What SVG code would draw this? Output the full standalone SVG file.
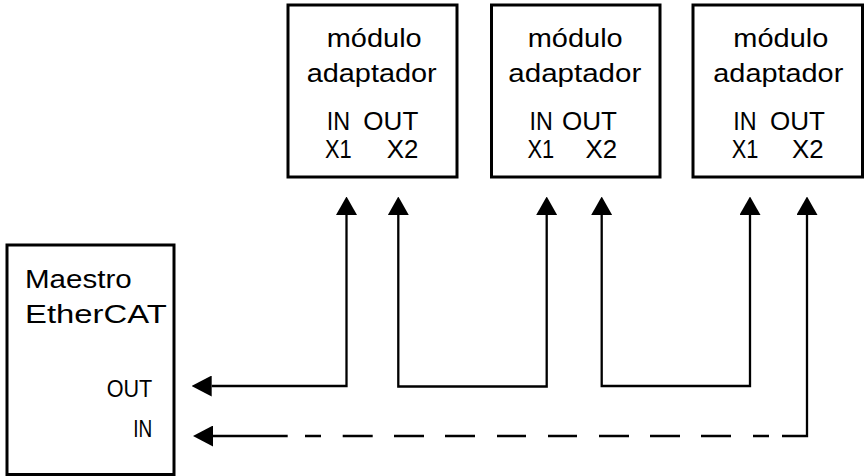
<svg xmlns="http://www.w3.org/2000/svg" width="865" height="476" viewBox="0 0 865 476">
  <style>
    .box { fill: #fff; stroke: #000; stroke-width: 3; }
    .lbl { font-family: "Liberation Sans", Arial, sans-serif; font-size: 25.5px; fill: #000; }
    .port { font-family: "Liberation Sans", Arial, sans-serif; font-size: 23px; fill: #000; }
    .wire { fill: none; stroke: #000; stroke-width: 2.3; }
  </style>
  <defs>
    <!-- arrowheads start at the line end and point outward -->
    <marker id="arrowV" viewBox="0 0 18.5 21" refX="0" refY="10.5" markerWidth="18.5" markerHeight="21" markerUnits="userSpaceOnUse" orient="auto-start-reverse">
      <path d="M0,0 L18.5,10.5 L0,21 Z" fill="#000"/>
    </marker>
    <marker id="arrowH" viewBox="0 0 20 21" refX="0" refY="10.5" markerWidth="20" markerHeight="21" markerUnits="userSpaceOnUse" orient="auto-start-reverse">
      <path d="M0,0 L20,10.5 L0,21 Z" fill="#000"/>
    </marker>
  </defs>

  <!-- EtherCAT master -->
  <g id="maestro">
    <rect class="box" x="7" y="245" width="167" height="229.5"/>
    <text class="lbl" x="25" y="288" textLength="106.7" lengthAdjust="spacingAndGlyphs">Maestro</text>
    <text class="lbl" x="25" y="323" textLength="141.7" lengthAdjust="spacingAndGlyphs">EtherCAT</text>
    <text class="port" x="106.7" y="396.7" textLength="45.6" lengthAdjust="spacingAndGlyphs">OUT</text>
    <text class="port" x="133.3" y="436.7" textLength="19" lengthAdjust="spacingAndGlyphs">IN</text>
  </g>

  <!-- adapter module 1 -->
  <g id="modulo1">
    <rect class="box" x="288" y="5" width="169" height="172"/>
    <text class="lbl" x="326.7" y="46.7" textLength="95" lengthAdjust="spacingAndGlyphs">módulo</text>
    <text class="lbl" x="306.7" y="81.7" textLength="130" lengthAdjust="spacingAndGlyphs">adaptador</text>
    <text class="lbl" x="326.7" y="130" textLength="23.3" lengthAdjust="spacingAndGlyphs">IN</text>
    <text class="lbl" x="363.3" y="130" textLength="55" lengthAdjust="spacingAndGlyphs">OUT</text>
    <text class="lbl" x="325" y="158.3" textLength="26.7" lengthAdjust="spacingAndGlyphs">X1</text>
    <text class="lbl" x="386.7" y="158.3" textLength="31.6" lengthAdjust="spacingAndGlyphs">X2</text>
  </g>

  <!-- adapter module 2 -->
  <g id="modulo2">
    <rect class="box" x="491.5" y="5" width="168.5" height="172"/>
    <text class="lbl" x="527.7" y="46.7" textLength="95" lengthAdjust="spacingAndGlyphs">módulo</text>
    <text class="lbl" x="508.3" y="81.7" textLength="133" lengthAdjust="spacingAndGlyphs">adaptador</text>
    <text class="lbl" x="529.5" y="130" textLength="23.3" lengthAdjust="spacingAndGlyphs">IN</text>
    <text class="lbl" x="562" y="130" textLength="55" lengthAdjust="spacingAndGlyphs">OUT</text>
    <text class="lbl" x="527.5" y="158.3" textLength="26.7" lengthAdjust="spacingAndGlyphs">X1</text>
    <text class="lbl" x="585.5" y="158.3" textLength="31.6" lengthAdjust="spacingAndGlyphs">X2</text>
  </g>

  <!-- adapter module 3 -->
  <g id="modulo3">
    <rect class="box" x="693" y="5" width="169.5" height="172"/>
    <text class="lbl" x="733.3" y="46.7" textLength="95" lengthAdjust="spacingAndGlyphs">módulo</text>
    <text class="lbl" x="713.3" y="81.7" textLength="130" lengthAdjust="spacingAndGlyphs">adaptador</text>
    <text class="lbl" x="733.3" y="130" textLength="23.3" lengthAdjust="spacingAndGlyphs">IN</text>
    <text class="lbl" x="770" y="130" textLength="55" lengthAdjust="spacingAndGlyphs">OUT</text>
    <text class="lbl" x="731.7" y="158.3" textLength="26.7" lengthAdjust="spacingAndGlyphs">X1</text>
    <text class="lbl" x="792" y="158.3" textLength="31.6" lengthAdjust="spacingAndGlyphs">X2</text>
  </g>

  <!-- cabling -->
  <g id="connectors">
    <!-- master OUT to module 1 X1 -->
    <path class="wire" d="M346.5,215 V386 H211.7" marker-start="url(#arrowV)" marker-end="url(#arrowH)"/>
    <!-- module 1 X2 to module 2 X1 -->
    <path class="wire" d="M398.3,215 V386.5 H546.7 V215" marker-start="url(#arrowV)" marker-end="url(#arrowV)"/>
    <!-- module 2 X2 to module 3 X1 -->
    <path class="wire" d="M601.7,215 V386 H750 V215" marker-start="url(#arrowV)" marker-end="url(#arrowV)"/>
    <!-- return line from module 3 X2 to master IN -->
    <path class="wire" d="M782,436 H807 V215" marker-end="url(#arrowV)"/>
    <path class="wire" d="M305,436 H321 M342.7,436 H372.7 M394,436 H424 M445,436 H475 M497,436 H526 M548,436 H577 M599,436 H629 M650,436 H680 M701,436 H731 M753,436 H769"/>
    <path class="wire" d="M287.7,436 H213" marker-end="url(#arrowH)"/>
  </g>
</svg>
